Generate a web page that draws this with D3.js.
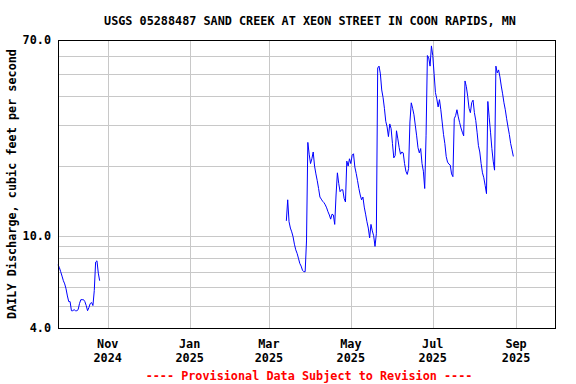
<!DOCTYPE html>
<html lang="en">
<head>
<meta charset="UTF-8">
<title>USGS 05288487 Sand Creek</title>
<script src="https://d3js.org/d3.v7.min.js"></script>
<style>
  body { margin: 0; background: #fff; }
  svg { display: block; }
  text { font-family: "DejaVu Sans Mono", monospace; font-weight: bold; font-size: 11.8px; }
</style>
</head>
<body>
<svg id="chart" width="576" height="384"></svg>
<script>
// daily discharge, cfs (two periods of record, gap in between)
const seg1Start = "2024-09-25";
const seg1Values = [7.5, 7.3, 7.0, 6.7, 6.4, 6.2, 5.9, 5.5, 5.2, 5.2, 4.75, 4.75, 4.8, 4.75, 4.75, 4.8,
  5.1, 5.3, 5.3, 5.3, 5.2, 5.0, 4.75, 4.9, 5.1, 5.15, 5.0, 5.8, 7.7, 7.8, 6.9, 6.4];

const seg2Start = "2025-03-14";
const seg2Values = [
  11.6, 14.3, 11.5, 10.8, 10.4, 9.9, 9.2, 8.7, 8.4, 8.0, 7.6, 7.4, 7.1, 7.0, 7.0, 9.5,
  25.3, 22.5, 20.5, 21.5, 23.0, 20.0, 18.5, 17.3, 16.0, 14.7, 14.4, 14.1, 13.9, 13.6, 13.2, 12.7,
  12.3, 11.8, 12.4, 12.3, 11.2, 15.0, 18.7, 16.8, 15.5, 15.8, 15.8, 14.5, 14.0, 21.0, 20.0, 21.5,
  20.5, 22.3, 22.6, 19.8, 18.6, 17.3, 16.0, 15.0, 14.3, 14.7, 13.3, 12.4, 11.5, 10.8, 9.8, 11.2,
  10.5, 10.0, 9.0, 10.2, 53.0, 54.0, 50.0, 42.6, 39.5, 35.5, 31.2, 29.5, 26.8, 30.4, 29.0, 25.0,
  21.7, 22.2, 28.4, 26.2, 24.0, 22.5, 23.0, 22.8, 20.5, 19.0, 18.4, 19.5, 31.0, 37.5, 35.5, 33.3,
  30.0, 27.0, 24.0, 22.8, 23.8, 20.5, 19.0, 16.0, 27.0, 60.0, 58.6, 54.0, 66.0, 60.0, 50.0, 41.5,
  39.0, 36.0, 38.7, 35.0, 31.0, 27.4, 25.0, 22.0, 20.8, 20.4, 20.2, 18.5, 18.0, 32.0, 33.0, 35.0,
  32.6, 30.8, 29.2, 28.0, 27.0, 46.6, 44.0, 40.0, 35.5, 34.0, 37.6, 38.5, 34.0, 31.5, 28.0, 24.5,
  23.0, 20.5, 18.7, 17.8, 16.5, 15.2, 38.0, 32.5, 28.0, 23.8, 21.0, 19.2, 54.0, 50.5, 52.0, 48.5,
  44.3, 41.0, 37.5, 35.0, 32.0, 29.5, 27.4, 25.0, 23.5, 22.0];

const yGridValues = [5, 6, 7, 8, 9, 10, 20, 30, 40, 50, 60];
const yTickValues = [4, 10, 70];
const xTickDates = ["2024-11-01", "2025-01-01", "2025-03-01", "2025-05-01", "2025-07-01", "2025-09-01"];

const parse = d3.timeParse("%Y-%m-%d");

function toSeries(start, values) {
  const t0 = parse(start);
  return values.map((v, i) => ({ date: d3.timeDay.offset(t0, i), value: v }));
}
const series = [toSeries(seg1Start, seg1Values), toSeries(seg2Start, seg2Values)];

const svg = d3.select("#chart");
const margin = { top: 40, right: 21, bottom: 56, left: 58 };
const width = 576 - margin.left - margin.right;
const height = 384 - margin.top - margin.bottom;

const x = d3.scaleTime()
  .domain([parse("2024-09-25"), parse("2025-09-30")])
  .range([margin.left, margin.left + width]);

const y = d3.scaleLog()
  .domain([4, 70])
  .range([margin.top + height, margin.top]);

// grid
svg.append("g").selectAll("line.hg")
  .data(yGridValues)
  .join("line")
  .attr("x1", margin.left).attr("x2", margin.left + width)
  .attr("y1", d => Math.round(y(d)) + 0.5).attr("y2", d => Math.round(y(d)) + 0.5)
  .attr("stroke", "#c8c8c8");

svg.append("g").selectAll("line.vg")
  .data(xTickDates.map(parse))
  .join("line")
  .attr("x1", d => Math.round(x(d)) + 0.5).attr("x2", d => Math.round(x(d)) + 0.5)
  .attr("y1", margin.top).attr("y2", margin.top + height)
  .attr("stroke", "#c8c8c8");

// data lines
const line = d3.line()
  .x(d => x(d.date))
  .y(d => y(d.value));

svg.append("g").selectAll("path")
  .data(series)
  .join("path")
  .attr("d", line)
  .attr("fill", "none")
  .attr("stroke", "#0000ff")
  .attr("stroke-width", 1);

// frame
svg.append("rect")
  .attr("x", margin.left + 0.5).attr("y", margin.top + 0.5)
  .attr("width", width).attr("height", height)
  .attr("fill", "none").attr("stroke", "#000");

// y tick labels
svg.append("g").selectAll("text")
  .data(yTickValues)
  .join("text")
  .attr("x", margin.left - 7)
  .attr("y", d => y(d) + 4)
  .attr("text-anchor", "end")
  .text(d => d3.format(".1f")(d));

// x tick labels
const xl = svg.append("g").selectAll("g")
  .data(xTickDates.map(parse))
  .join("g")
  .attr("transform", d => `translate(${x(d)},0)`);
xl.append("text")
  .attr("y", 348).attr("text-anchor", "middle")
  .text(d => d3.timeFormat("%b")(d));
xl.append("text")
  .attr("y", 362).attr("text-anchor", "middle")
  .text(d => d3.timeFormat("%Y")(d));

// titles
svg.append("text")
  .attr("x", 310).attr("y", 25)
  .attr("text-anchor", "middle")
  .text("USGS 05288487 SAND CREEK AT XEON STREET IN COON RAPIDS, MN");

svg.append("text")
  .attr("transform", `translate(16,${margin.top + height / 2}) rotate(-90)`)
  .attr("text-anchor", "middle")
  .text("DAILY Discharge, cubic feet per second");

svg.append("text")
  .attr("x", 309).attr("y", 380)
  .attr("text-anchor", "middle")
  .attr("fill", "#ff0000")
  .text("---- Provisional Data Subject to Revision ----");
</script>
</body>
</html>
